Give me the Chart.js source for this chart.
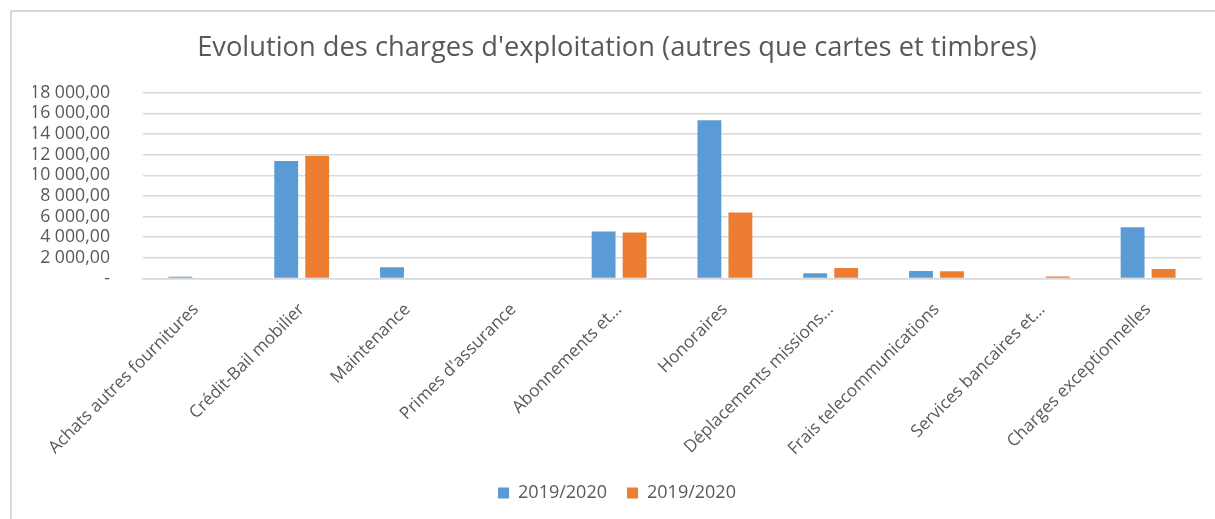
<!DOCTYPE html>
<html>
<head>
<meta charset="utf-8">
<script src="https://cdn.jsdelivr.net/npm/chart.js@4.4.1/dist/chart.umd.min.js"></script>
<style>
    html, body { margin: 0; padding: 0; background: #fff; }
    #wrap { position: relative; width: 1215px; height: 519px; overflow: hidden; }
    #frame { position: absolute; left: 10px; top: 10px; width: 1240px; height: 560px; border: 2px solid #d9d9d9; box-sizing: border-box; }
    canvas { position: absolute; left: 0; top: 0; }
</style>
</head>
<body>
<div id="wrap">
    <div id="frame"></div>
    <canvas id="chargesChart" width="1215" height="519"></canvas>
</div>
<script>
// Data
const categories = [
    'Achats autres fournitures',
    'Crédit-Bail mobilier',
    'Maintenance',
    "Primes d'assurance",
    'Abonnements et…',
    'Honoraires',
    'Déplacements missions…',
    'Frais telecommunications',
    'Services bancaires et…',
    'Charges exceptionnelles'
];
const seriesLabels = ['2019/2020', '2019/2020'];
const seriesBlue = [180, 11380, 1100, 0, 4545, 15330, 500, 720, 0, 4960];
const seriesOrange = [0, 11890, 0, 0, 4450, 6400, 1010, 700, 200, 910];
const yTickValues = [0, 2000, 4000, 6000, 8000, 10000, 12000, 14000, 16000, 18000];
const yTickLabels = ['-', '2 000,00', '4 000,00', '6 000,00', '8 000,00', '10 000,00',
    '12 000,00', '14 000,00', '16 000,00', '18 000,00'];
const chartTitle = "Evolution des charges d'exploitation (autres que cartes et timbres)";

const FONT = "'Open Sans', sans-serif";
const TEXT_COLOR = '#595959';
const GRID_COLOR = '#d9d9d9';

// pick a font size so a sample string gets the width it has in the picture
function fitSize(text, target) {
    const ctx = document.createElement('canvas').getContext('2d');
    ctx.font = '100px ' + FONT;
    return 100 * target / ctx.measureText(text).width;
}

const titleSize = fitSize(chartTitle, 840);
const tickSize = fitSize(yTickLabels[9], 80);
const legendSize = fitSize(seriesLabels[0], 89);
const catSize = fitSize(categories[0], 204);

document.addEventListener('DOMContentLoaded', function() {
    const ctx = document.getElementById('chargesChart').getContext('2d');
    new Chart(ctx, {
        type: 'bar',
        data: {
            labels: categories,
            datasets: [{
                label: seriesLabels[0],
                data: seriesBlue,
                backgroundColor: '#5b9bd5'
            }, {
                label: seriesLabels[1],
                data: seriesOrange,
                backgroundColor: '#ed7d31'
            }]
        },
        options: {
            responsive: false,
            animation: false,
            layout: { padding: { left: 33, right: 14, top: 0, bottom: 7 } },
            datasets: {
                bar: { categoryPercentage: 0.586, barPercentage: 0.77 }
            },
            plugins: {
                title: {
                    display: true,
                    text: chartTitle,
                    color: TEXT_COLOR,
                    font: { family: FONT, size: titleSize, weight: 'normal', lineHeight: 1.2 },
                    padding: { top: 48.5 - 0.6 * titleSize, bottom: 44.2 - 0.6 * titleSize }
                },
                legend: {
                    position: 'bottom',
                    labels: {
                        color: TEXT_COLOR,
                        font: { family: FONT, size: legendSize },
                        boxWidth: 11,
                        boxHeight: 11,
                        padding: 20
                    }
                },
                tooltip: { enabled: false }
            },
            scales: {
                x: {
                    grid: { display: false },
                    border: { color: GRID_COLOR, width: 1.5 },
                    ticks: {
                        color: TEXT_COLOR,
                        font: { family: FONT, size: catSize },
                        minRotation: 45,
                        maxRotation: 45,
                        autoSkip: false,
                        padding: 13
                    },
                    afterFit: function(scale) { scale.height = 185.5; }
                },
                y: {
                    min: 0,
                    max: 18000,
                    border: { display: false },
                    grid: { color: GRID_COLOR, lineWidth: 1.5, drawTicks: false },
                    afterBuildTicks: function(scale) {
                        scale.ticks = yTickValues.map(v => ({ value: v }));
                    },
                    ticks: {
                        color: TEXT_COLOR,
                        font: { family: FONT, size: tickSize },
                        padding: 33,
                        autoSkip: false,
                        callback: function(value) {
                            return yTickLabels[yTickValues.indexOf(value)];
                        }
                    },
                    afterFit: function(scale) { scale.width = 110; }
                }
            }
        }
    });
});
</script>
</body>
</html>
